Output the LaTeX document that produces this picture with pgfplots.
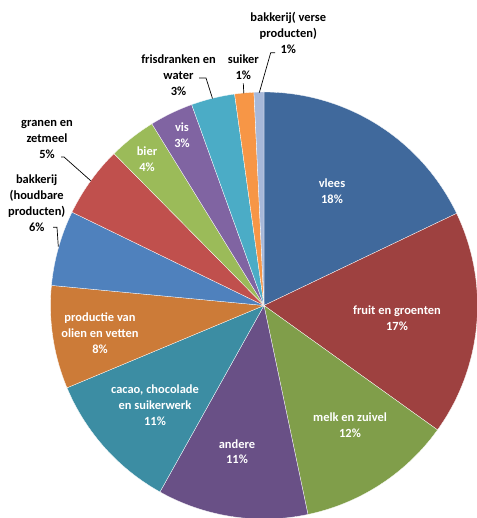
\documentclass[border=0pt]{standalone}
\usepackage{fontspec}
\setmainfont{Carlito}
\usepackage{pgfplots}
\usepackage{pgfplotstable}
\pgfplotsset{compat=1.18}

\definecolor{cVlees}{HTML}{40699C}
\definecolor{cFruit}{HTML}{9E4140}
\definecolor{cMelk}{HTML}{809E4A}
\definecolor{cAndere}{HTML}{695086}
\definecolor{cCacao}{HTML}{3C8DA3}
\definecolor{cOlie}{HTML}{CC7B38}
\definecolor{cBakH}{HTML}{4F81BD}
\definecolor{cGranen}{HTML}{C0504D}
\definecolor{cBier}{HTML}{9BBB59}
\definecolor{cVis}{HTML}{8064A2}
\definecolor{cFris}{HTML}{4BACC6}
\definecolor{cSuiker}{HTML}{F79646}
\definecolor{cBakV}{HTML}{A7B8D9}

% share (percent), clockwise from 12 o'clock
\pgfplotstableread{
name      value  col
vlees     17.9   cVlees
fruit     17.0   cFruit
melk      11.8   cMelk
andere    11.4   cAndere
cacao     10.6   cCacao
olie      7.8    cOlie
bakkerijH 5.7    cBakH
granen    5.4    cGranen
bier      3.6    cBier
vis       3.3    cVis
fris      3.3    cFris
suiker    1.45   cSuiker
bakkerijV 0.75   cBakV
}\sharetable

\def\cx{264}
\def\cy{212.5}
\def\rad{213.5}

\begin{document}
\begin{tikzpicture}
\begin{axis}[
  scale only axis, width=477bp, height=518bp,
  xmin=0, xmax=477, ymin=0, ymax=518,
  hide axis, clip=false,
]
\xdef\cum{0}
\pgfplotstablegetrowsof{\sharetable}
\pgfmathtruncatemacro\nrows{\pgfplotsretval-1}
\pgfplotsforeachungrouped \i in {0,...,\nrows}{%
  \pgfplotstablegetelem{\i}{value}\of{\sharetable}\let\val\pgfplotsretval
  \pgfplotstablegetelem{\i}{col}\of{\sharetable}\let\col\pgfplotsretval
  \pgfmathsetmacro\angA{90-3.6*\cum}%
  \pgfmathsetmacro\newcum{\cum+\val}%
  \xdef\cum{\newcum}%
  \pgfmathsetmacro\angB{90-3.6*\cum}%
  \edef\doslice{\noexpand\addplot[fill=\col, draw=white, line width=0.3pt, domain=\angB:\angA, samples=80, variable=\noexpand\t]
    ({\cx+\rad*cos(\noexpand\t)},{\cy+\rad*sin(\noexpand\t)}) -- (axis cs:\cx,\cy) -- cycle;}%
  \doslice
}

% leader lines
\addplot[black, line width=0.7pt] coordinates {(53,290.7) (57,290.7) (58.3,271.3)};
\addplot[black, line width=0.7pt] coordinates {(61,361) (64,361) (90.7,337.3)};
\addplot[black, line width=0.7pt] coordinates {(199,440) (206,440) (212.5,419.5)};
\addplot[black, line width=0.7pt] coordinates {(243.3,434.7) (243.8,424.7)};
\addplot[black, line width=0.7pt] coordinates {(275,465.3) (270.7,465.3) (259.3,425.3)};

\tikzset{lab/.style={align=center, font=\fontsize{12.5}{16}\selectfont\bfseries, inner sep=0pt}}
\node[lab, white] at (axis cs:332,326.5) {vlees\\18\%};
\node[lab, white] at (axis cs:397,199.7) {fruit en groenten\\17\%};
\node[lab, white] at (axis cs:350,93) {melk en zuivel\\12\%};
\node[lab, white] at (axis cs:237,66.3) {andere\\11\%};
\node[lab, white] at (axis cs:155,112.5) {cacao, chocolade\\en suikerwerk\\11\%};
\node[lab, white] at (axis cs:100,185) {productie van\\olien en vetten\\8\%};
\node[lab, black] at (axis cs:36.7,314.7) {bakkerij\\(houdbare\\producten)\\6\%};
\node[lab, black] at (axis cs:47,378.3) {granen en\\zetmeel\\5\%};
\node[lab, white] at (axis cs:147,359) {bier\\4\%};
\node[lab, white] at (axis cs:182,383) {vis\\3\%};
\node[lab, black] at (axis cs:178.5,442.8) {frisdranken en\\water\\3\%};
\node[lab, black] at (axis cs:243.3,450.5) {suiker\\1\%};
\node[lab, black] at (axis cs:288.3,484.7) {bakkerij( verse\\producten)\\1\%};
\end{axis}
\pgfresetboundingbox
\useasboundingbox (0,0) rectangle (477bp,518bp);
\end{tikzpicture}
\end{document}
